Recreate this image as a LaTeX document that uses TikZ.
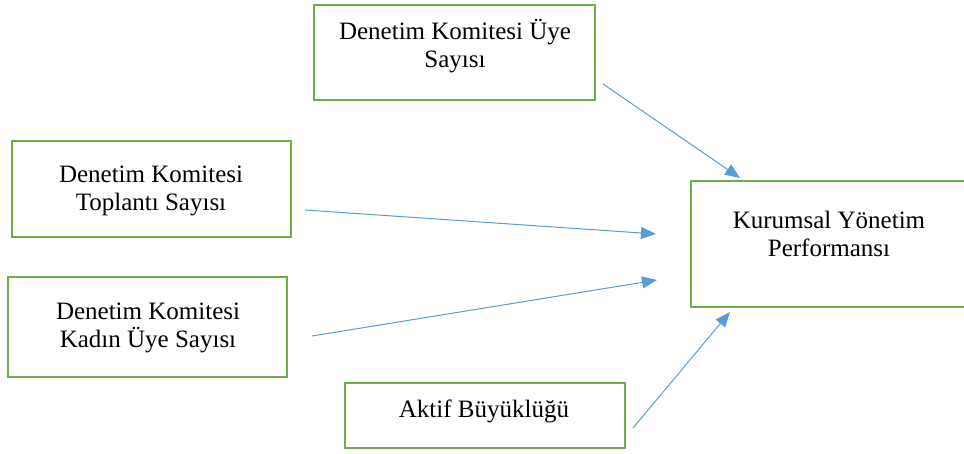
\documentclass[tikz,border=0pt]{standalone}
\usepackage{fontspec}
\setmainfont{Liberation Serif}
\usetikzlibrary{arrows.meta}
\definecolor{boxgreen}{HTML}{70AD47}
\definecolor{arrowblue}{HTML}{5B9BD5}
\begin{document}
\begin{tikzpicture}[x=1pt,y=-1pt,
  box/.style={draw=boxgreen, line width=2pt, inner sep=0pt, rectangle},
  lbl/.style={align=center, font=\fontsize{25}{28}\selectfont, inner sep=0pt, anchor=base},
  link/.style={draw=arrowblue, line width=1pt, -{Triangle[length=15pt,width=12pt]}}]
\useasboundingbox (0,0) rectangle (964,453);
% boxes
\node[box, minimum width=281pt, minimum height=95pt] (b1) at (454.5,52.5) {};
\node[box, minimum width=279pt, minimum height=96pt] (b2) at (151.5,189) {};
\node[box, minimum width=279pt, minimum height=100pt] (b3) at (147.5,327) {};
\node[box, minimum width=280pt, minimum height=65pt] (b4) at (485,415.5) {};
\node[box, minimum width=274pt, minimum height=126pt] (b5) at (828,244) {};
% labels
\node[lbl] (t1) at (455,67) {Denetim Komitesi Üye\\Sayısı};
\node[lbl] (t2) at (151,210) {Denetim Komitesi\\Toplantı Sayısı};
\node[lbl] (t3) at (148,347) {Denetim Komitesi\\Kadın Üye Sayısı};
\node[lbl] (t4) at (484,417) {Aktif Büyüklüğü};
\node[lbl] (t5) at (829,256) {Kurumsal Yönetim\\Performansı};
% arrow ends
\coordinate (a1s) at (603,84);  \coordinate (a1e) at (740,178);
\coordinate (a2s) at (305,210); \coordinate (a2e) at (656,234);
\coordinate (a3s) at (312,336); \coordinate (a3e) at (657,280);
\coordinate (a4s) at (633,428); \coordinate (a4e) at (730,312);
\draw[link] (a1s) -- (a1e);
\draw[link] (a2s) -- (a2e);
\draw[link] (a3s) -- (a3e);
\draw[link] (a4s) -- (a4e);
\end{tikzpicture}
\end{document}
